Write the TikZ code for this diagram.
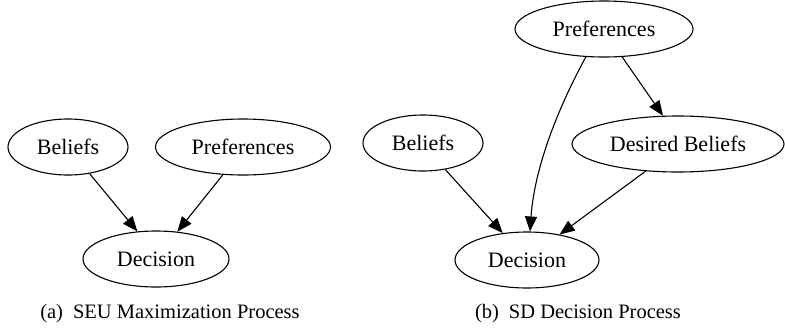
\documentclass[tikz,border=0pt]{standalone}
\usepackage{fontspec}
\setmainfont{Liberation Serif}
\newfontfamily\gserif{Liberation Serif}
\usetikzlibrary{arrows.meta,shapes.geometric}
\begin{document}
\begin{tikzpicture}[x=1bp,y=-1bp,
  gnode/.style={draw,ellipse,line width=1.1bp,inner sep=0pt,minimum height=56bp,
    font=\gserif\fontsize{22bp}{26bp}\selectfont},
  garrow/.style={line width=1.1bp,-{Triangle[length=15bp,width=12bp]}},
  capt/.style={anchor=base,inner sep=0pt,font=\gserif\fontsize{20.5bp}{24bp}\selectfont}]
\useasboundingbox (0,0) rectangle (785,333);
% (a)
\node[gnode,minimum width=120bp] (bl) at (68,147) {Beliefs};
\node[gnode,minimum width=175bp] (pl) at (243,147) {Preferences};
\node[gnode,minimum width=146bp] (dl) at (156,259) {Decision};
\draw[garrow] (bl.-51) -- (dl.124);
\draw[garrow] (pl.-126) -- (dl.52);
\node[capt] (ca) at (170,318) {(a)\hspace{10bp}SEU Maximization Process};
% (b)
\node[gnode,minimum width=178bp] (pr) at (604,29) {Preferences};
\node[gnode,minimum width=120bp] (br) at (423,143) {Beliefs};
\node[gnode,minimum width=212bp] (db) at (678,144) {Desired Beliefs};
\node[gnode,minimum width=144bp] (dr) at (527,260) {Decision};
\draw[garrow] (br.-50) -- (dr.132);
\draw[garrow] (pr.-123) .. controls (565,95) and (535,160) .. (dr.84);
\draw[garrow] (pr.-57) -- (db.118);
\draw[garrow] (db.-140) -- (dr.38);
\node[capt] (cb) at (578,318) {(b)\hspace{10bp}SD Decision Process};
\end{tikzpicture}
\end{document}
